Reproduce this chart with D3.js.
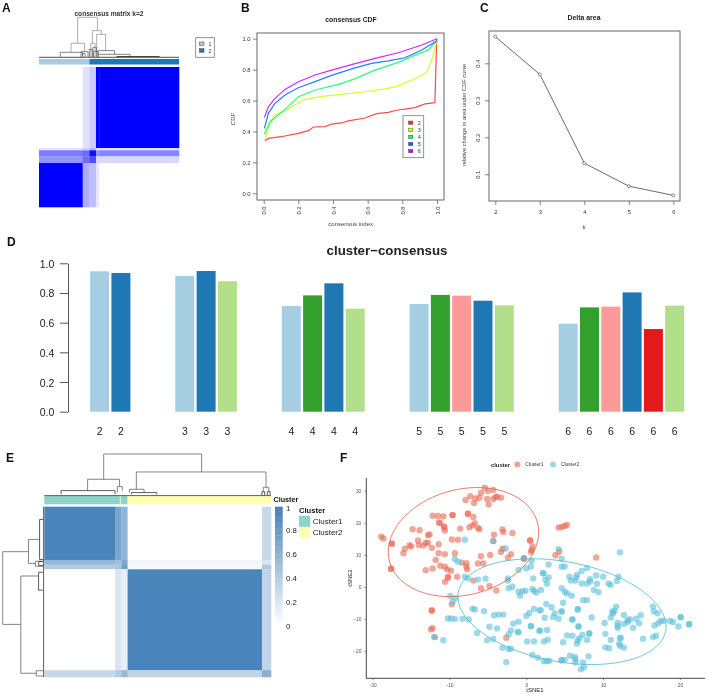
<!DOCTYPE html>
<html><head><meta charset="utf-8">
<script src="https://cdn.jsdelivr.net/npm/d3@7"></script>
<style>html,body{margin:0;padding:0;background:#fff}svg{display:block;filter:blur(.4px)}text{font-family:"Liberation Sans",Arial,sans-serif}</style>
</head><body><svg id="c" width="708" height="694" viewBox="0 0 708 694"></svg>
<script>
// ---------- Panel A ----------
const aColBreaks=[0,31.2,36,40.7,43,100];
const aRowBreaks=[0,57.9,59.5,63.8,68.6,100];
const aMatrix=[[0,.12,.2,1,1],[.12,.2,.3,.12,.12],[.52,.58,.95,.42,.48],[.42,.58,.7,.15,.15],[1,.32,.25,.1,0]];
const aClusterBreaks=[0,36,100];
const aClusterColors=["#a6cee3","#1f78b4"];
const aMerges=[[27.6,41.7,35,66.7,100],[22.9,32.6,12.5,14,35],[15.2,31.2,1.5,1.5,12.5],[38.1,44.5,35,57.5,66.7],[41.2,47.6,10,16.7,57.5],[42.4,54,7.5,7.5,16.7],[42.4,65,1,1,7.5],[55.5,86,1,1,2],[30,35,1,1,14],[31,33,1,1,9],[37,40,1,1,35],[38.5,41,1,1,25],[36,38,1,1,20],[39,42,1,1,15],[0,100,0,0,0]];
const aLegendLabels=["1","2"];
// ---------- Panel B ----------
const cdfK=["2","3","4","5","6"];
const cdfColors=["#ff2a2a","#ccff00","#00ff66","#0066ff","#cc00ff"];
const cdfX2=[.008,.027,.10,.2,.258,.287,.354,.392,.45,.488,.585,.652,.719,.767,.873,.931,.988,.998,1];
const cdfY2=[.34,.355,.366,.388,.405,.429,.431,.448,.455,.468,.487,.515,.524,.537,.554,.578,.586,.99,1];
const cdfX3=[.008,.027,.062,.113,.162,.238,.335,.45,.585,.70,.767,.873,.94,.969,1];
const cdfY3=[.345,.431,.506,.528,.56,.608,.627,.64,.657,.675,.692,.741,.78,.862,.99];
const cdfX4=[.004,.037,.123,.2,.296,.431,.517,.642,.777,.873,.95,1];
const cdfY4=[.384,.463,.543,.625,.668,.705,.737,.797,.847,.894,.927,.99];
const cdfX5=[.004,.027,.065,.123,.2,.296,.392,.517,.623,.719,.815,.912,1];
const cdfY5=[.42,.517,.582,.636,.683,.722,.763,.808,.84,.856,.877,.927,.987];
const cdfX6=[.004,.027,.065,.123,.2,.296,.392,.517,.642,.777,.912,1];
const cdfY6=[.491,.56,.614,.672,.722,.765,.797,.836,.873,.909,.959,1];
const cdfTicks=[0,.2,.4,.6,.8,1];
// ---------- Panel C ----------
const deltaK=[2,3,4,5,6];
const deltaArea=[.472,.37,.13,.068,.043];
const deltaTicks=[.1,.2,.3,.4];
// ---------- Panel D ----------
const lb="#a6cee3",db="#1f78b4",lg="#b2df8a",dg="#33a02c",pk="#fb9a99",rd="#e31a1c";
const barK=[2,2,3,3,3,4,4,4,4,5,5,5,5,5,6,6,6,6,6,6];
const barValues=[.946,.935,.915,.948,.879,.712,.784,.865,.694,.726,.787,.782,.748,.717,.593,.703,.708,.804,.557,.715];
const barColors=[lb,db,lb,db,lg,lb,dg,db,lg,lb,dg,pk,db,lg,lb,dg,pk,db,rd,lg];
const barTicks=[0,.2,.4,.6,.8,1];
// ---------- Panel E ----------
const eBreaks=[0,62.5,68,73.5,192,200];
const eMatrix=[[.95,.7,.58,0,.3],[.55,.5,.7,.08,.2],[.4,.45,.75,.05,.42],[0,.2,.12,.95,.33],[.3,.4,.55,.33,.62]];
const eAnnoBreaks=[0,66.7,67.4,73.5,200];
const eAnnoNames=["Cluster1","Cluster2","Cluster1","Cluster2"];
const eClusterNames=["Cluster1","Cluster2"];
const eClusterColors=["#8dd3c7","#ffffb3"];
const eTopMerges=[[26.2,69.4,39.2,56.8,100],[19.1,33.2,12,21.6,39.2],[7.4,31.2,3.2,3.2,12],[32.2,34.4,7,12,21.6],[40.6,97.8,15.2,20,56.8],[37.5,44,7.2,7.2,15.2],[38.5,49.6,3.2,3.2,7.2],[96.6,99,9.6,9.6,20],[96,97.2,1,1,9.6],[98.4,99.6,1,1,9.6],[0,100,0,0,0]];
const eLeftMerges=[[26.4,69.1,36.9,55.7,100],[19.2,33.3,9.8,20,36.9],[7.5,31,1,1,9.8],[32,35,1,1,20],[32.2,34.5,1,1,12],[40.7,97.8,12.3,18,55.7],[38.5,49,2,2,12.3],[96.3,99.4,1,1,18],[0,100,0,0,0]];
const eLegendTicks=[0,.2,.4,.6,.8,1];
const eLegendLabels=["0","0.2","0.4","0.6","0.8","1"];
// ---------- Panel F ----------
const c1X=[-5.4,-4.3,-5,-5.9,-7.3,-7.9,-6.8,-6.6,-6.1,-5.1,-4.3,-3.8,-4,-3.3,-4.9,-12.2,-11.5,-10.8,-9.6,-9.6,-7.6,-7.6,-6.9,-11.4,-11.2,-10.7,-10.7,-10.6,-6.7,-7,-7.4,-6.3,-6.1,-8.6,-14.8,-13.9,-3.1,-3,-1.8,-4.2,-12.6,-12.8,-9.7,-8.9,-14.1,-18.9,-18.6,-17.5,-17.5,-13.1,-12.8,-13.4,-14,-15.2,-15,-15.8,-16,-12.3,-11.4,-11.4,-10.6,-9.3,-4.3,.5,.5,.8,.7,.6,-3.1,-3.3,-2,-2.4,-4.7,-5.9,-11.8,-11.2,-10.6,-10.3,-9.8,-13.1,-12.2,-8.4,-7.8,-7.8,-7.7,-6.3,-5.6,-9,-10.2,-10.2,-10.6,-6.9,-4.8,-5.9,-3.9,-.3,-.3,-17.6,-17.6,-9.7,-12.3,-12.3,-12.2,-12.4,-11.9,-2.6,4.2,4.6,5,5.3,3.8,4.3,9.1];
const c1Y=[30.9,30.2,29.9,29.4,28.3,27.1,26.2,27.6,27.8,27.4,27.4,28.1,28,27.8,25.7,22.2,22.1,22,22.4,22.4,22.8,22.8,21.8,20.1,19.9,18.9,18.5,17.6,19.9,19.2,18.6,18.4,18,18.2,18,17.7,17.9,17.1,16.8,16.3,16.4,16.1,14.8,14.7,14.5,15.7,15.1,13.5,13.5,13.8,13.7,12.9,13.1,13,12.6,11.9,10.5,12.2,13.3,10.5,10.2,10.5,14.3,14.5,14.5,12.6,11.5,11,11.9,10.9,10.2,9.1,10,9.6,8.4,6.6,6.3,5.5,5.1,5.2,5.8,7.6,7.4,6.3,5.5,7.3,7.3,3.2,3.2,2.8,1.6,2,.3,-.4,-1.1,8.9,8.9,5.7,5.7,-5.4,-7.3,-7.3,-12.8,-13.2,-15.6,-15.8,18.5,18.7,19,19.3,9.9,11,9.2];
const c2X=[-8,-4.3,-2.7,-9.3,-8.9,-8,-7.6,-6.3,-5.3,-2.4,-2.4,-2.3,-1.8,-1,0,.6,.7,-.3,4.2,4.6,12.2,2.9,4.6,5,2.2,2.2,.9,2.9,2.5,2.7,5.6,5.8,6.5,6.6,7.2,7.9,6.4,7.2,7.9,8.3,8.3,9.1,10,9.2,10.7,11,11.8,12,4.6,5,5.3,5.9,8.8,9.4,7.4,7.9,-9.9,-9.2,-9.6,-7,-6.7,-5.5,-10.2,-9.8,-9.3,-8.3,-7.5,-4.2,-3.6,-3,-4.8,-3.8,-6.4,-4.3,-5.1,-10.8,-12,-3.1,-2.3,-2,-2.6,-1,-.8,-.5,-.1,1,.8,1.3,1.9,2.6,3.3,3.7,3.5,4.2,4.6,4.6,4.8,1,1.7,1.9,.4,0,2.4,-1,-1.7,-2,-2.3,-1.1,-1,.6,.6,1.7,1.8,2.7,.1,1,2.3,2.8,4.8,5.3,6,6.7,6.7,6,6,6.8,6.8,8.5,10.2,8.2,8.2,7.3,6.9,6.7,6.6,7.9,10.3,11,10.3,10.8,12.2,12.3,12.1,12.2,12.7,12.7,11.9,11.9,11.9,12.7,13.2,13.2,13.5,13.9,14.3,14.7,14.9,15.2,16.5,16.6,17.1,16.7,17.2,16.5,16.9,17.5,17.9,18.7,19.1,19.8,20.1,20.1,21.2,21.2,11,11.3,11.5,11.7,11.2,.8,1.5,2.3,2.7,3,4.6,4.6,5,5.7,6.3,6.4,6.4,7.4,7.5,7.1,8.1];
const c2Y=[14.7,14.3,12,8.7,7.9,3.2,2.7,2.3,2.6,2.7,2,-.4,.1,5.3,5.8,6.4,8.2,8.9,11.8,8.8,10.8,7,6.3,6.4,4.3,4.3,2.7,3,2.3,1,3.2,2,3,3.8,5,5.9,2,1.1,1.1,1.7,2.4,3.6,3.2,1,1.1,.6,1.9,3.2,-.4,-1.5,-2,-2.7,-.9,-1.6,-4.1,-4.1,-2.8,-3.5,-4.6,-6.8,-7,-7.5,-9.8,-9.8,-10,-9.9,-10.1,-8.8,-8.6,-8.6,-12.4,-12.9,-14.3,-16.2,-16.6,-16.6,-15.6,-18.9,-19.3,-19.2,-23.4,-1.5,-2.7,-1.3,-1.2,-1.2,-.6,-1.7,-.9,-5.3,-6.3,-8.2,-9.4,-9.9,-7.6,-7.6,-4.9,-6.8,-7.3,-7.2,-8.1,-9,-9.6,-10.8,-11.4,-13.5,-14.7,-13.9,-14.2,-12.2,-12.2,-13.7,-13.5,-13.4,-17,-17,-17,-16.4,-17.2,-15.1,-15.2,-6.8,-7.1,-10.1,-10.1,-12.3,-12.3,-9.5,-11.2,-14.5,-14.5,-14.9,-16,-16.7,-17.7,-16.5,-14.6,-16.5,-18.8,-19.1,-15.9,-15.9,-17.7,-18.3,-18.9,-8.7,-11.1,-12.8,-12.1,-11.5,-10.3,-10.9,-10.1,-12.7,-9.9,-11.3,-8.8,-16.1,-6.1,-7.6,-8.2,-12,-11.3,-15.6,-15.2,-10.5,-10.5,-10.6,-10.9,-12.3,-9.4,-9.4,-11.6,-11.6,-9.5,-8.2,-7.4,-6.1,-7.7,-21.2,-22,-23.1,-23,-23,-22.8,-22.8,-22.7,-21.4,-21.8,-22.5,-23.5,-23.5,-25,-25.6,-21.6];
// centre x, centre y, x half-width, y shift at x extreme, y half-height of the conjugate axis
const ellipse1=[-8.18,14.0,9.79,3.1,16.7];
const ellipse2=[4.65,-7.68,13.55,-4.67,15.8];
const tsneColors=["#ea6a55","#5cc0da"];
const tsneLegend=["Cluster1","Cluster2"];
const tsneXTicks=[-20,-10,0,10,20];
const tsneXLabels=["-30","-10","0","10","20"];
const tsneYTicks=[-20,-10,0,10,20,30];

const svg=d3.select("#c");
const txt=(x,y,s,o={})=>{
  const t=svg.append("text").attr("x",x).attr("y",y).attr("text-anchor",o.a||"middle").attr("dominant-baseline","central")
   .attr("font-size",o.s||6).attr("font-weight",o.w||"normal").attr("fill",o.f||"#222").text(s);
  if(o.r)t.attr("transform",`rotate(${o.r} ${x} ${y})`);return t;};
function heat(g,X,Y,cb,rb,m,col){
  m.forEach((row,i)=>row.forEach((v,j)=>{
    g.append("rect").attr("x",X(cb[j])).attr("y",Y(rb[i])).attr("width",X(cb[j+1])-X(cb[j])+.3).attr("height",Y(rb[i+1])-Y(rb[i])+.3).attr("fill",col(v));
  }));
}
function dendro(g,P,H,merges,horizontal,stroke,w){
  const line=(p1,h1,p2,h2)=>{const a=horizontal?[H(h1),P(p1),H(h2),P(p2)]:[P(p1),H(h1),P(p2),H(h2)];
    g.append("line").attr("x1",a[0]).attr("y1",a[1]).attr("x2",a[2]).attr("y2",a[3]).attr("stroke",stroke(Math.max(h1,h2))).attr("stroke-width",w);};
  merges.forEach(([p1,p2,h1,h2,h])=>{line(p1,h,p2,h);line(p1,h1,p1,h);line(p2,h2,p2,h);});
}
function letters(){[["A",2,8],["B",241,8],["C",480,8],["D",7,242],["E",6,458],["F",340,458]].forEach(d=>txt(d[1],d[2],d[0],{a:"start",s:12,w:"bold",f:"#111"}));}
letters();

// A
{
 const X=d3.scaleLinear([0,100],[39,179]),Y=d3.scaleLinear([0,100],[67,207]);
 const col=d3.scaleLinear([0,1],["#ffffff","#0000ff"]);
 heat(svg.append("g"),X,Y,aColBreaks,aRowBreaks,aMatrix,col);
 aClusterColors.forEach((c,i)=>svg.append("rect").attr("x",X(aClusterBreaks[i])).attr("y",59).attr("width",X(aClusterBreaks[i+1])-X(aClusterBreaks[i])).attr("height",5.5).attr("fill",c));
 const H=d3.scaleLinear([0,100],[57.3,17.3]);
 dendro(svg.append("g"),X,H,aMerges,false,h=>h>=30?"#999":h>=5?"#666":"#222",.8);
 txt(109,13.5,"consensus matrix k=2",{s:6.6,w:"bold",f:"#333"});
 svg.append("rect").attr("x",195.7).attr("y",37.7).attr("width",18.6).attr("height",19.6).attr("fill","#fff").attr("stroke","#777").attr("stroke-width",.8);
 aLegendLabels.forEach((l,i)=>{
  svg.append("rect").attr("x",199.5).attr("y",42+i*6.7).attr("width",4.5).attr("height",3.6).attr("fill",aClusterColors[i]).attr("stroke","#444").attr("stroke-width",.5);
  txt(210,44+i*6.7,l,{s:5.3,f:"#333"});
 });
}
// R-style frame/axes helper
function rAxes(X,Y,xt,yt,xf,yf,box,rotX,rotY,xLabY){
 const g=svg.append("g");
 g.append("rect").attr("x",box[0]).attr("y",box[1]).attr("width",box[2]-box[0]).attr("height",box[3]-box[1]).attr("fill","none").attr("stroke","#666").attr("stroke-width",1);
 const ax=g.append("g").attr("transform",`translate(0,${box[3]})`).call(d3.axisBottom(X).tickValues(xt).tickFormat(xf).tickSize(4).tickSizeOuter(0));
 const ay=g.append("g").attr("transform",`translate(${box[0]},0)`).call(d3.axisLeft(Y).tickValues(yt).tickFormat(yf).tickSize(4).tickSizeOuter(0));
 [ax,ay].forEach(a=>{a.select(".domain").attr("stroke","none");a.selectAll("line").attr("stroke","#666").attr("stroke-width",.8);
   a.selectAll("text").attr("font-size",5.8).attr("fill","#333").attr("font-family",'"Liberation Sans",Arial,sans-serif');});
 ax.selectAll("text").each(function(d){const s=d3.select(this);s.attr("x",0).attr("dy",null).attr("dominant-baseline","central").attr("y",xLabY-box[3]);
   if(rotX)s.attr("transform",`rotate(-90 0 ${xLabY-box[3]})`);});
 ay.selectAll("text").each(function(d){const s=d3.select(this);s.attr("dy",null).attr("dominant-baseline","central");
   if(rotY){s.attr("x",-11.5).attr("text-anchor","middle").attr("transform",`rotate(-90 -11.5 0)`);}else{s.attr("x",-6.5);}});
}
// B
{
 const X=d3.scaleLinear([0,1],[263.7,437]),Y=d3.scaleLinear([0,1],[193.3,38.7]);
 const xs=[cdfX2,cdfX3,cdfX4,cdfX5,cdfX6],ys=[cdfY2,cdfY3,cdfY4,cdfY5,cdfY6];
 const line=d3.line();
 xs.forEach((xv,i)=>svg.append("path").attr("d",line(xv.map((x,j)=>[X(x),Y(ys[i][j])]))).attr("fill","none").attr("stroke",cdfColors[i]).attr("stroke-width",1.2).attr("opacity",.85));
 rAxes(X,Y,cdfTicks,cdfTicks,d3.format(".1f"),d3.format(".1f"),[257,33,444,200],true,false,210.5);
 txt(351,19,"consensus CDF",{s:6.8,w:"bold"});
 txt(350.7,224.3,"consensus index",{s:6,f:"#444"});
 txt(233,119,"CDF",{s:6,r:-90,f:"#444"});
 svg.append("rect").attr("x",403).attr("y",115.7).attr("width",20.7).attr("height",42).attr("fill","#fff").attr("stroke","#777").attr("stroke-width",.8);
 cdfK.forEach((k,i)=>{
  svg.append("rect").attr("x",408.5).attr("y",121+i*7.1).attr("width",4.4).attr("height",3.4).attr("fill",cdfColors[i]).attr("stroke","#444").attr("stroke-width",.4);
  txt(419.3,122.8+i*7.1,k,{s:5.3,f:"#333"});
 });
}
// C
{
 const X=d3.scaleLinear([2,6],[495.3,673.3]),Y=d3.scaleLinear([.1,.4],[174.3,63.3]);
 rAxes(X,Y,deltaK,deltaTicks,d3.format("d"),d3.format(".1f"),[489,31,680,201],false,true,212);
 const pts=deltaK.map((k,i)=>[X(k),Y(deltaArea[i])]);
 svg.append("path").attr("d",d3.line()(pts)).attr("fill","none").attr("stroke","#444").attr("stroke-width",.8);
 svg.selectAll(null).data(pts).join("circle").attr("cx",d=>d[0]).attr("cy",d=>d[1]).attr("r",1.5).attr("fill","#fff").attr("stroke","#444").attr("stroke-width",.6);
 txt(584,17,"Delta area",{s:6.9,w:"bold"});
 txt(584,226.7,"k",{s:6,f:"#444"});
 txt(464,115,"relative change in area under CDF curve",{s:5.7,r:-90,f:"#444"});
}
// D
{
 const slots=[];barK.forEach((k,i)=>{if(i&&barK[i-1]!==k){slots.push("g"+k+"a","g"+k+"b");}slots.push(i);});
 const X=d3.scaleBand(slots,[88.95,685.35]).paddingInner(.108).paddingOuter(.054);
 const Y=d3.scaleLinear([0,1],[411.7,263.3]);
 svg.append("g").selectAll("rect").data(barValues).join("rect").attr("x",(d,i)=>X(i)).attr("width",X.bandwidth()).attr("y",d=>Y(d)).attr("height",d=>Y(0)-Y(d)).attr("fill",(d,i)=>barColors[i]);
 const ay=svg.append("g").attr("transform","translate(68,0)").call(d3.axisLeft(Y).tickValues(barTicks).tickFormat(d3.format(".1f")).tickSize(8).tickSizeOuter(0));
 ay.select(".domain").attr("stroke","#555");ay.selectAll("line").attr("stroke","#555");
 ay.selectAll("text").attr("font-size",10.5).attr("fill","#222").attr("font-family",'"Liberation Sans",Arial,sans-serif').attr("x",-13.7).attr("dy",null).attr("dominant-baseline","central");
 barK.forEach((k,i)=>txt(X(i)+X.bandwidth()/2,431,k,{s:10.5,f:"#222"}));
 txt(387,250.7,"cluster\u2212consensus",{s:13.3,w:"bold",f:"#222"});
}
// E
{
 const X=d3.scaleLinear([0,200],[44.3,271]),Y=d3.scaleLinear([0,200],[506.7,677]);
 const col=d3.scaleLinear([0,1],["#ffffff","#417eb6"]);
 heat(svg.append("g"),X,Y,eBreaks,eBreaks,eMatrix,col);
 eAnnoNames.forEach((n,i)=>svg.append("rect").attr("x",X(eAnnoBreaks[i])).attr("y",496).attr("width",X(eAnnoBreaks[i+1])-X(eAnnoBreaks[i])).attr("height",8.3).attr("fill",eClusterColors[eClusterNames.indexOf(n)]));
 const P=d3.scaleLinear([0,100],[44.3,271]),H=d3.scaleLinear([0,100],[495.6,454]);
 dendro(svg.append("g"),P,H,eTopMerges,false,h=>h>=15?"#666":"#333",.8);
 const Pl=d3.scaleLinear([0,100],[506.7,677]),Hl=d3.scaleLinear([0,100],[43.6,2.7]);
 dendro(svg.append("g"),Pl,Hl,eLeftMerges,true,h=>h>=15?"#666":"#333",.8);
 txt(273.5,499.5,"Cluster",{a:"start",s:7.2,w:"bold",f:"#111"});
 const C=d3.scaleLinear([0,1],[626,506.7]);
 d3.range(0,1,.02).forEach(v=>svg.append("rect").attr("x",275).attr("width",7.7).attr("y",C(v+.02)).attr("height",C(v)-C(v+.02)+.3).attr("fill",col(v)));
 eLegendTicks.forEach((v,i)=>txt(286,C(v)+(i==5?1.5:0),eLegendLabels[i],{a:"start",s:7.8,f:"#222"}));
 txt(299,510,"Cluster",{a:"start",s:7.6,w:"bold",f:"#111"});
 eClusterNames.forEach((n,i)=>{
  svg.append("rect").attr("x",299).attr("y",515.7+i*11.2).attr("width",11.3).attr("height",11.2).attr("fill",eClusterColors[i]);
  txt(312.7,521.3+i*11.2,n,{a:"start",s:8,f:"#222"});
 });
}
// F
{
 const X=d3.scaleLinear([0,10],[526.3,603.1]),Y=d3.scaleLinear([0,10],[587,554.9]);
 const draw=(xs,ys,c)=>svg.append("g").selectAll("circle").data(xs).join("circle").attr("cx",d=>X(d)).attr("cy",(d,i)=>Y(ys[i])).attr("r",3.2).attr("fill",c).attr("opacity",.6);
 draw(c1X,c1Y,tsneColors[0]);draw(c2X,c2Y,tsneColors[1]);
 const ell=([cx,cy,ax,bx,by])=>d3.line()(d3.range(0,6.3,.05).map(t=>[X(cx+ax*Math.cos(t)),Y(cy+bx*Math.cos(t)+by*Math.sin(t))]))+"Z";
 [ellipse1,ellipse2].forEach((e,i)=>svg.append("path").attr("d",ell(e)).attr("fill","none").attr("stroke",tsneColors[i]).attr("stroke-width",.9));
 const ax=svg.append("g").attr("transform","translate(0,678.3)").call(d3.axisBottom(X).tickValues(tsneXTicks).tickFormat((d,i)=>tsneXLabels[i]).tickSize(2).tickSizeOuter(0));
 const ay=svg.append("g").attr("transform","translate(366.3,0)").call(d3.axisLeft(Y).tickValues(tsneYTicks).tickSize(2).tickSizeOuter(0));
 [ax,ay].forEach(a=>{a.selectAll("line").attr("stroke","#555").attr("stroke-width",.6);a.selectAll("text").attr("font-size",4.8).attr("fill","#555").attr("font-family",'"Liberation Sans",Arial,sans-serif');});
 ax.select(".domain").attr("d","M366.3,0H705").attr("stroke","#444").attr("stroke-width",1);
 ay.select(".domain").attr("d","M0,478V678.3").attr("stroke","#444").attr("stroke-width",1);
 txt(535,690,"tSNE1",{s:6,f:"#222"});
 txt(350,578,"tSNE2",{s:6,r:-90,f:"#222"});
 txt(491,464.5,"cluster",{a:"start",s:5.8,w:"bold",f:"#222"});
 tsneLegend.forEach((n,i)=>{
  svg.append("circle").attr("cx",517.3+i*35.7).attr("cy",464.5).attr("r",3).attr("fill",tsneColors[i]).attr("opacity",.62);
  txt(525.3+i*35.7,464.5,n,{a:"start",s:4.9,f:"#333"});
 });
}
</script></body></html>
